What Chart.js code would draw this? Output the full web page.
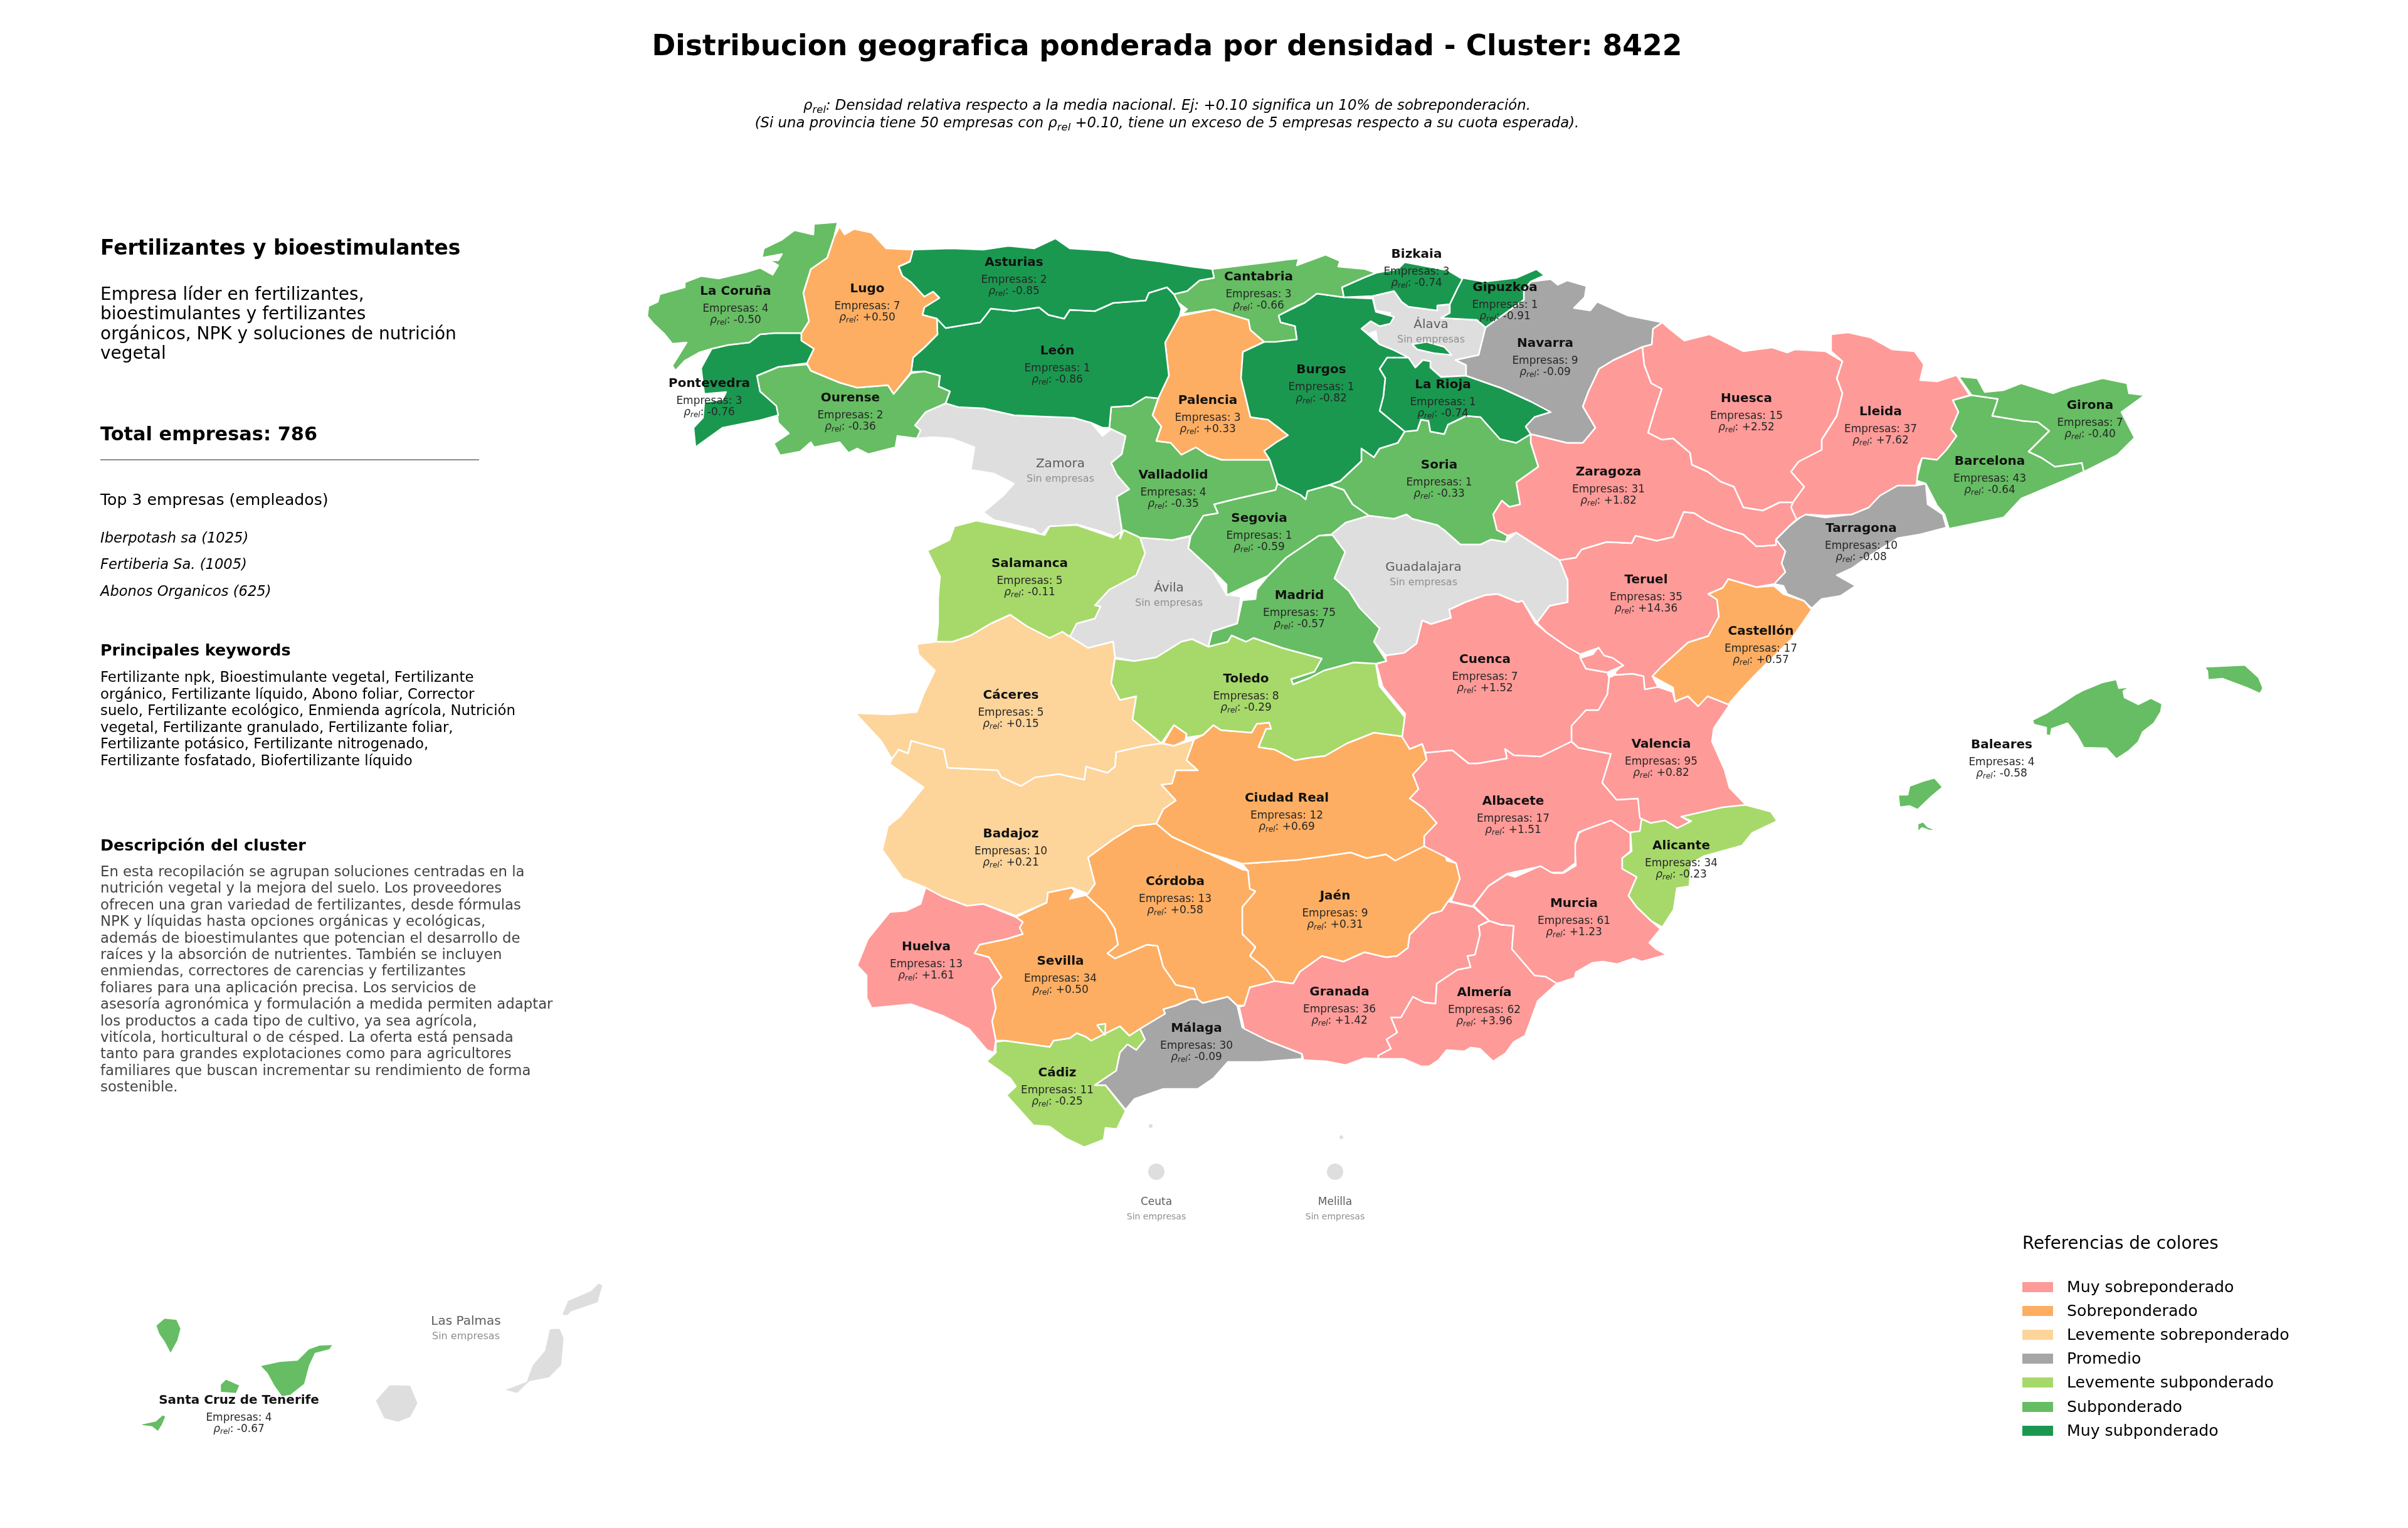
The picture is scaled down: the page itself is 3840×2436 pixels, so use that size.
<!DOCTYPE html>
<html lang="es">
<head>
<meta charset="utf-8">
<title>Distribucion geografica ponderada por densidad</title>
<script src="https://cdn.jsdelivr.net/npm/chart.js@4/dist/chart.umd.min.js"></script>
<style>
  html,body{margin:0;background:#fff;}
  #page{position:relative;width:3840px;height:2436px;overflow:hidden;font-family:"DejaVu Sans",sans-serif;color:#000;}
  #page canvas{position:absolute;left:0;top:0;}
  .t{position:absolute;white-space:nowrap;line-height:1;transform:translateY(-50%);}
  .c{transform:translate(-50%,-50%);}
  .t sub{font-size:.72em;line-height:0;}
  #rule{position:absolute;left:160px;top:732px;width:604px;height:2px;background:#8c8c8c;}
  .sw{position:absolute;left:3225px;width:49px;height:16px;}
</style>
</head>
<body>
<div id="page"><canvas id="map" width="3840" height="2436"></canvas></div>
<script>
// province outlines (image pixel units)
const laCoruna=[[1336,354],[1298,357],[1297,374],[1267,367],[1247,382],[1218,396],[1215,411],[1247,405],[1241,415],[1227,415],[1241,423],[1232,438],[1212,427],[1189,434],[1146,444],[1118,440],[1092,450],[1092,458],[1052,469],[1049,481],[1034,488],[1032,504],[1043,517],[1060,533],[1072,548],[1095,546],[1077,575],[1072,583],[1077,591],[1092,575],[1115,562],[1135,556],[1161,550],[1195,546],[1212,533],[1235,531],[1278,531],[1290,512],[1281,467],[1293,429],[1319,411],[1330,378]];
const lugo=[[1339,361],[1347,374],[1362,365],[1390,371],[1413,396],[1456,398],[1451,417],[1433,425],[1439,440],[1453,450],[1474,473],[1488,465],[1498,475],[1474,490],[1471,502],[1494,508],[1495,533],[1474,554],[1456,570],[1453,593],[1425,628],[1416,614],[1367,618],[1339,610],[1293,591],[1287,579],[1298,556],[1278,543],[1278,531],[1290,512],[1281,467],[1293,429],[1319,411],[1330,378]];
const pontevedra=[[1135,556],[1161,550],[1195,546],[1212,533],[1235,531],[1278,531],[1278,543],[1298,556],[1287,579],[1241,585],[1207,599],[1212,624],[1238,647],[1241,662],[1212,670],[1152,682],[1109,713],[1106,682],[1121,666],[1123,641],[1152,637],[1158,625],[1123,628],[1118,587]];
const ourense=[[1207,599],[1241,585],[1287,581],[1293,591],[1339,610],[1367,618],[1416,614],[1425,628],[1453,595],[1474,592],[1499,599],[1497,616],[1515,624],[1508,643],[1476,657],[1459,678],[1468,686],[1462,699],[1431,695],[1428,713],[1385,724],[1367,715],[1353,722],[1339,705],[1298,713],[1293,705],[1276,720],[1244,726],[1234,707],[1258,691],[1241,674],[1238,649],[1212,624]];
const asturias=[[1456,398],[1517,396],[1568,398],[1608,392],[1649,396],[1683,380],[1706,396],[1769,400],[1804,411],[1850,417],[1900,425],[1933,429],[1936,443],[1913,447],[1893,464],[1872,469],[1861,458],[1832,467],[1827,479],[1775,483],[1746,496],[1706,494],[1697,508],[1672,502],[1657,490],[1617,496],[1580,492],[1571,504],[1563,514],[1508,523],[1494,508],[1471,502],[1474,490],[1498,475],[1488,465],[1474,473],[1453,450],[1439,440],[1433,425],[1451,417]];
const leon=[[1872,469],[1861,458],[1832,467],[1827,479],[1775,483],[1746,496],[1706,494],[1697,508],[1672,502],[1657,490],[1617,496],[1580,492],[1571,504],[1563,514],[1508,523],[1494,508],[1495,533],[1474,554],[1456,570],[1453,593],[1474,592],[1499,599],[1497,616],[1515,624],[1508,643],[1528,649],[1568,651],[1617,662],[1660,664],[1712,666],[1740,674],[1758,682],[1769,682],[1772,649],[1804,647],[1827,633],[1847,635],[1864,599],[1858,546],[1881,504],[1884,492]];
const palencia=[[1881,504],[1936,493],[1968,503],[1991,510],[1994,526],[2016,545],[1982,561],[1979,603],[1988,640],[1994,665],[2022,669],[2039,682],[2054,694],[2034,706],[2016,719],[2025,733],[1971,733],[1948,733],[1925,725],[1907,713],[1884,725],[1867,706],[1844,703],[1852,680],[1838,662],[1850,628],[1864,599],[1858,546]];
const cantabria=[[1933,429],[2022,418],[2051,414],[2071,412],[2068,423],[2114,406],[2137,416],[2134,425],[2177,429],[2194,435],[2174,443],[2140,458],[2143,474],[2100,468],[2080,483],[2065,489],[2039,503],[2042,514],[2065,520],[2068,541],[2034,545],[2016,545],[1994,526],[1991,510],[1968,503],[1936,493],[1884,501],[1893,493],[1873,478],[1872,469],[1893,464],[1913,447],[1936,443]];
const burgos=[[2039,503],[2080,483],[2100,468],[2143,474],[2189,476],[2194,497],[2223,505],[2217,516],[2200,520],[2186,512],[2171,524],[2200,549],[2220,557],[2246,570],[2212,570],[2200,588],[2209,603],[2206,632],[2200,655],[2240,688],[2229,706],[2200,715],[2191,729],[2171,715],[2171,735],[2137,767],[2120,773],[2085,783],[2082,796],[2074,789],[2037,771],[2025,733],[2016,719],[2034,706],[2054,694],[2039,682],[2022,669],[1994,665],[1988,640],[1979,603],[1982,561],[2016,545],[2068,541],[2065,520],[2042,514]];
const trevino=[[2252,549],[2275,545],[2303,553],[2315,566],[2286,563],[2260,557]];
const alava=[[2189,472],[2223,464],[2235,481],[2246,489],[2292,495],[2292,487],[2312,485],[2312,499],[2298,507],[2355,510],[2369,522],[2358,566],[2321,574],[2338,582],[2338,599],[2298,601],[2281,586],[2281,576],[2269,574],[2257,586],[2246,570],[2220,557],[2197,549],[2194,528],[2183,532],[2170,524],[2186,512],[2200,520],[2217,516],[2217,499],[2194,495]];
const bizkaia=[[2194,435],[2229,429],[2240,418],[2309,431],[2332,445],[2324,460],[2312,485],[2292,487],[2292,495],[2246,489],[2235,481],[2223,464],[2189,472],[2143,474],[2140,458],[2174,443]];
const gipuzkoa=[[2332,443],[2367,449],[2418,443],[2450,429],[2463,439],[2441,449],[2430,462],[2430,478],[2369,522],[2355,510],[2298,507],[2312,499],[2312,485],[2324,460]];
const navarra=[[2441,449],[2473,445],[2484,454],[2499,447],[2530,456],[2527,474],[2510,491],[2536,495],[2547,481],[2596,503],[2651,514],[2636,524],[2634,549],[2619,553],[2573,574],[2550,588],[2533,624],[2524,648],[2544,682],[2524,706],[2499,706],[2458,696],[2441,692],[2433,680],[2447,665],[2473,657],[2441,640],[2395,619],[2338,599],[2338,582],[2321,574],[2358,566],[2369,522],[2430,478],[2430,462]];
const laRioja=[[2212,570],[2246,570],[2257,586],[2269,574],[2281,576],[2281,586],[2298,601],[2338,599],[2395,619],[2441,640],[2473,657],[2447,665],[2433,680],[2441,692],[2418,706],[2392,700],[2361,665],[2338,663],[2309,677],[2303,692],[2281,688],[2278,671],[2266,669],[2260,686],[2240,688],[2200,655],[2206,632],[2209,603],[2200,588]];
const soria=[[2240,688],[2260,686],[2266,669],[2278,671],[2281,688],[2303,692],[2309,677],[2338,663],[2361,665],[2392,700],[2418,706],[2441,692],[2441,706],[2453,744],[2418,769],[2424,804],[2407,808],[2395,798],[2381,820],[2387,845],[2404,854],[2401,864],[2378,860],[2361,868],[2329,868],[2303,845],[2292,837],[2252,827],[2243,820],[2223,827],[2183,822],[2157,804],[2143,781],[2120,773],[2137,767],[2171,735],[2171,715],[2191,729],[2200,715],[2229,706]];
const zamora=[[1508,643],[1528,649],[1568,651],[1617,662],[1660,664],[1712,666],[1740,674],[1758,695],[1772,684],[1795,695],[1789,724],[1772,738],[1781,757],[1801,780],[1781,792],[1789,844],[1786,859],[1758,848],[1717,836],[1672,840],[1660,854],[1649,844],[1585,829],[1568,817],[1600,790],[1617,771],[1585,755],[1548,749],[1554,713],[1517,699],[1488,697],[1462,699],[1468,686],[1459,678],[1476,657]];
const valladolid=[[1769,682],[1772,649],[1804,647],[1827,633],[1847,635],[1838,662],[1852,680],[1844,703],[1867,706],[1884,725],[1907,713],[1925,725],[1948,733],[1971,733],[2025,733],[2037,771],[2034,781],[1968,796],[1936,804],[1942,818],[1919,822],[1899,854],[1869,861],[1818,857],[1792,845],[1786,859],[1789,844],[1781,792],[1801,780],[1781,757],[1772,738],[1789,724],[1795,695],[1772,684]];
const segovia=[[2037,771],[2074,789],[2082,796],[2085,783],[2120,773],[2143,781],[2157,804],[2183,822],[2146,833],[2123,852],[2103,854],[2051,889],[2022,918],[1956,949],[1956,932],[1933,909],[1895,874],[1899,854],[1919,822],[1942,818],[1936,804],[1968,796],[2034,781]];
const madrid=[[2125,853],[2145,880],[2128,922],[2151,942],[2168,969],[2200,1002],[2191,1023],[2211,1054],[2194,1058],[2159,1056],[2111,1069],[2088,1081],[2062,1091],[2059,1083],[2096,1071],[2108,1050],[2045,1033],[1999,1017],[1987,1023],[1964,1013],[1958,1023],[1927,1031],[1933,1007],[1973,994],[1981,957],[2002,955],[2004,940],[2022,918],[2051,889],[2103,854]];
const avila=[[1818,857],[1869,861],[1898,855],[1895,874],[1933,909],[1956,948],[1979,951],[1973,994],[1933,1007],[1927,1031],[1901,1019],[1884,1023],[1844,1048],[1809,1054],[1778,1048],[1775,1023],[1735,1033],[1706,1015],[1717,994],[1746,986],[1755,967],[1746,965],[1769,940],[1812,917],[1826,882]];
const salamanca=[[1522,839],[1557,830],[1603,839],[1666,853],[1674,839],[1717,837],[1752,849],[1775,857],[1792,845],[1818,857],[1826,882],[1812,917],[1769,940],[1746,965],[1755,967],[1746,986],[1717,994],[1706,1015],[1694,1007],[1674,1017],[1637,998],[1611,980],[1580,994],[1548,1013],[1519,1023],[1493,1023],[1496,994],[1496,953],[1499,919],[1479,878],[1514,861]];
const caceres=[[1462,1027],[1493,1023],[1519,1023],[1548,1013],[1580,994],[1611,980],[1637,998],[1674,1017],[1694,1007],[1706,1015],[1735,1033],[1775,1023],[1778,1048],[1772,1089],[1786,1116],[1812,1110],[1806,1147],[1852,1185],[1824,1189],[1780,1199],[1778,1222],[1766,1232],[1732,1222],[1729,1243],[1689,1234],[1651,1239],[1628,1253],[1597,1239],[1591,1228],[1511,1224],[1505,1195],[1453,1181],[1448,1201],[1433,1195],[1422,1210],[1405,1181],[1364,1137],[1419,1139],[1462,1135],[1473,1106],[1491,1069],[1465,1044]];
const badajoz=[[1422,1210],[1433,1195],[1448,1201],[1453,1181],[1505,1195],[1511,1224],[1591,1228],[1597,1239],[1628,1253],[1651,1239],[1689,1234],[1729,1243],[1732,1222],[1766,1232],[1778,1222],[1780,1199],[1824,1189],[1852,1185],[1872,1189],[1904,1179],[1892,1212],[1910,1228],[1875,1228],[1869,1249],[1852,1251],[1875,1276],[1855,1290],[1844,1313],[1809,1317],[1775,1338],[1735,1367],[1746,1409],[1735,1425],[1709,1415],[1671,1423],[1669,1439],[1620,1460],[1568,1441],[1542,1444],[1502,1429],[1476,1415],[1439,1400],[1407,1355],[1416,1317],[1436,1301],[1473,1255],[1436,1230],[1419,1218]];
const almaden=[[1872,1156],[1892,1170],[1890,1181],[1872,1189],[1855,1185]];
const toledo=[[1778,1050],[1809,1054],[1844,1048],[1884,1023],[1901,1019],[1927,1031],[1958,1023],[1964,1013],[1987,1023],[1999,1017],[2045,1033],[2108,1050],[2096,1071],[2059,1083],[2062,1091],[2088,1081],[2111,1069],[2159,1056],[2194,1058],[2200,1094],[2240,1143],[2237,1174],[2191,1168],[2148,1185],[2113,1205],[2088,1208],[2065,1212],[2033,1195],[2007,1191],[2019,1162],[2027,1162],[2024,1152],[2004,1154],[1996,1168],[1947,1164],[1935,1156],[1918,1172],[1892,1176],[1892,1170],[1872,1156],[1852,1185],[1806,1147],[1812,1110],[1786,1116],[1772,1089]];
const ciudadReal=[[1904,1179],[1918,1172],[1935,1156],[1947,1164],[1996,1168],[2004,1154],[2024,1152],[2027,1162],[2019,1162],[2007,1191],[2033,1195],[2065,1212],[2088,1208],[2113,1205],[2148,1185],[2191,1168],[2237,1174],[2248,1194],[2268,1186],[2275,1211],[2253,1235],[2262,1258],[2248,1273],[2271,1289],[2291,1312],[2271,1333],[2271,1349],[2225,1372],[2210,1362],[2179,1368],[2154,1359],[2113,1365],[2068,1371],[1981,1377],[1924,1359],[1869,1334],[1844,1313],[1855,1290],[1875,1276],[1852,1251],[1869,1249],[1875,1228],[1910,1228],[1892,1212]];
const cordoba=[[1844,1313],[1869,1334],[1924,1359],[1981,1386],[1990,1388],[1993,1417],[2002,1421],[1981,1446],[1981,1489],[2002,1510],[1993,1524],[2019,1545],[2033,1564],[1993,1574],[1984,1603],[1973,1603],[1958,1589],[1918,1599],[1910,1593],[1904,1576],[1875,1570],[1855,1541],[1846,1508],[1829,1506],[1815,1512],[1778,1528],[1766,1520],[1783,1506],[1778,1481],[1763,1456],[1732,1427],[1746,1409],[1735,1367],[1775,1338],[1809,1317]];
const jaen=[[1981,1377],[2068,1371],[2113,1365],[2154,1359],[2179,1368],[2210,1362],[2225,1372],[2271,1349],[2304,1355],[2307,1372],[2322,1376],[2330,1400],[2327,1415],[2309,1437],[2299,1452],[2281,1457],[2248,1490],[2245,1511],[2228,1524],[2210,1526],[2176,1518],[2142,1533],[2108,1524],[2073,1549],[2062,1568],[2033,1564],[2019,1545],[1993,1524],[2002,1510],[1981,1489],[1981,1446],[2002,1421],[1993,1417],[1990,1388]];
const albacete=[[2273,1200],[2316,1196],[2342,1217],[2357,1217],[2403,1209],[2400,1194],[2414,1204],[2457,1206],[2506,1182],[2517,1192],[2569,1202],[2555,1248],[2578,1275],[2612,1273],[2618,1304],[2615,1325],[2598,1327],[2569,1308],[2535,1320],[2517,1327],[2512,1343],[2512,1376],[2492,1391],[2474,1391],[2457,1381],[2403,1393],[2374,1412],[2348,1445],[2314,1437],[2328,1401],[2322,1376],[2305,1366],[2271,1349],[2271,1333],[2291,1312],[2271,1289],[2248,1273],[2262,1258],[2253,1235],[2275,1211]];
const cuenca=[[2268,989],[2282,995],[2314,985],[2311,972],[2337,960],[2368,949],[2388,947],[2420,960],[2428,958],[2448,993],[2466,1008],[2500,1032],[2520,1043],[2520,1049],[2529,1066],[2563,1072],[2566,1080],[2563,1107],[2549,1132],[2529,1132],[2506,1157],[2506,1182],[2457,1206],[2414,1204],[2400,1194],[2403,1209],[2357,1217],[2342,1217],[2316,1196],[2273,1200],[2268,1186],[2248,1194],[2236,1175],[2241,1138],[2205,1095],[2195,1059],[2210,1053],[2210,1045],[2239,1041],[2259,1026]];
const guadalajara=[[2123,852],[2146,833],[2183,822],[2223,827],[2243,820],[2252,827],[2292,837],[2303,845],[2329,868],[2361,868],[2378,860],[2401,864],[2418,849],[2453,872],[2487,893],[2500,925],[2500,960],[2471,966],[2451,993],[2428,958],[2420,960],[2388,947],[2368,949],[2337,960],[2311,972],[2314,985],[2282,995],[2268,989],[2259,1026],[2239,1041],[2210,1045],[2191,1023],[2200,1002],[2168,969],[2151,942],[2128,922],[2145,880]];
const zaragoza=[[2441,692],[2458,696],[2499,706],[2524,706],[2544,682],[2524,648],[2533,624],[2550,588],[2573,574],[2619,553],[2622,582],[2633,611],[2650,620],[2640,650],[2628,690],[2650,701],[2668,699],[2695,722],[2698,741],[2723,752],[2744,768],[2765,776],[2780,809],[2811,814],[2838,801],[2859,801],[2856,809],[2865,828],[2853,839],[2832,860],[2832,869],[2801,871],[2780,852],[2750,843],[2722,831],[2702,818],[2685,816],[2668,856],[2642,862],[2608,854],[2602,866],[2562,864],[2522,876],[2513,889],[2487,893],[2418,849],[2404,854],[2387,845],[2381,820],[2395,798],[2407,808],[2424,804],[2418,769],[2453,744],[2441,706]];
const huesca=[[2651,514],[2662,524],[2686,543],[2726,533],[2780,560],[2826,554],[2850,562],[2862,557],[2911,560],[2938,576],[2929,603],[2938,627],[2929,663],[2905,701],[2905,717],[2868,736],[2856,752],[2877,776],[2859,801],[2838,801],[2811,814],[2780,809],[2765,776],[2744,768],[2723,752],[2698,741],[2695,722],[2668,699],[2650,701],[2628,690],[2640,650],[2650,620],[2633,611],[2622,582],[2619,553],[2634,549],[2636,524]];
const lleida=[[2920,533],[2947,530],[2983,538],[3017,557],[3053,560],[3068,581],[3062,606],[3089,608],[3120,598],[3141,630],[3114,638],[3123,657],[3111,684],[3120,695],[3104,717],[3089,733],[3065,730],[3059,744],[3056,774],[3026,774],[2998,790],[2980,809],[2953,820],[2911,822],[2880,820],[2865,828],[2856,809],[2859,801],[2877,776],[2856,752],[2868,736],[2905,717],[2905,701],[2929,663],[2938,627],[2929,603],[2938,576],[2920,560]];
const girona=[[3123,600],[3153,603],[3165,625],[3195,622],[3223,611],[3274,627],[3301,617],[3353,603],[3392,611],[3395,627],[3420,630],[3401,644],[3383,657],[3404,698],[3377,725],[3323,752],[3320,738],[3277,744],[3256,730],[3235,720],[3268,687],[3250,673],[3226,671],[3177,663],[3183,646],[3186,636],[3144,630]];
const barcelona=[[3114,638],[3144,630],[3186,636],[3183,646],[3177,663],[3226,671],[3250,673],[3268,687],[3235,720],[3256,730],[3277,744],[3320,738],[3323,752],[3292,766],[3223,795],[3195,825],[3108,843],[3101,820],[3089,806],[3071,771],[3056,766],[3065,730],[3089,733],[3104,717],[3120,695],[3111,684],[3123,657]];
const tarragona=[[3026,774],[3056,774],[3071,771],[3074,804],[3098,820],[3104,841],[3062,852],[3026,858],[2983,885],[2953,906],[2929,917],[2959,934],[2935,950],[2905,955],[2889,970],[2877,958],[2850,947],[2844,934],[2829,931],[2847,912],[2841,898],[2847,879],[2832,860],[2853,839],[2877,820],[2911,825],[2953,820],[2980,809],[2998,790]];
const castellon=[[2756,923],[2801,936],[2829,934],[2844,947],[2877,958],[2889,972],[2856,1020],[2814,1061],[2795,1080],[2777,1099],[2756,1123],[2723,1110],[2708,1126],[2692,1110],[2671,1118],[2668,1096],[2635,1078],[2649,1063],[2692,1024],[2724,1014],[2741,983],[2738,956],[2724,947],[2747,937]];
const teruel=[[2487,893],[2513,889],[2522,876],[2562,864],[2602,866],[2608,854],[2642,862],[2668,856],[2685,816],[2702,818],[2722,831],[2750,843],[2780,852],[2801,871],[2832,869],[2832,860],[2847,879],[2841,898],[2847,912],[2829,931],[2801,936],[2756,923],[2747,937],[2724,947],[2738,956],[2741,983],[2724,1014],[2692,1024],[2649,1063],[2635,1078],[2644,1095],[2623,1099],[2621,1078],[2603,1074],[2578,1076],[2575,1072],[2586,1061],[2558,1047],[2546,1034],[2520,1043],[2500,1032],[2466,1008],[2451,993],[2471,966],[2500,960],[2500,925]];
const ademuz=[[2520,1049],[2529,1066],[2563,1072],[2589,1061],[2572,1049],[2558,1045],[2549,1032],[2540,1043]];
const valencia=[[2566,1080],[2575,1076],[2603,1074],[2621,1078],[2623,1099],[2644,1095],[2667,1103],[2672,1119],[2690,1109],[2707,1124],[2724,1109],[2758,1124],[2733,1161],[2730,1182],[2750,1227],[2758,1256],[2784,1283],[2747,1287],[2681,1302],[2695,1310],[2675,1320],[2655,1308],[2632,1312],[2615,1304],[2612,1273],[2578,1275],[2555,1248],[2569,1202],[2517,1192],[2506,1182],[2506,1157],[2529,1132],[2549,1132],[2563,1107]];
const alicante=[[2613,1304],[2633,1311],[2656,1307],[2674,1320],[2697,1309],[2681,1302],[2712,1294],[2737,1283],[2763,1285],[2783,1283],[2824,1294],[2834,1309],[2794,1328],[2778,1348],[2717,1365],[2697,1376],[2694,1413],[2674,1416],[2669,1450],[2651,1478],[2633,1468],[2610,1446],[2597,1428],[2610,1398],[2587,1385],[2587,1368],[2602,1357],[2600,1328],[2615,1320]];
const murcia=[[2600,1326],[2600,1357],[2587,1368],[2587,1385],[2610,1398],[2597,1428],[2610,1446],[2633,1468],[2648,1481],[2630,1503],[2641,1513],[2658,1522],[2618,1533],[2605,1528],[2579,1537],[2556,1533],[2539,1535],[2513,1550],[2511,1559],[2483,1568],[2465,1557],[2447,1555],[2411,1513],[2414,1476],[2393,1474],[2375,1468],[2350,1444],[2373,1413],[2403,1394],[2416,1398],[2457,1380],[2472,1381],[2477,1392],[2493,1392],[2513,1380],[2511,1348],[2518,1328],[2536,1318],[2567,1307],[2582,1311]];
const almeria=[[2375,1468],[2393,1474],[2414,1476],[2411,1513],[2447,1555],[2465,1557],[2483,1568],[2452,1596],[2442,1624],[2432,1651],[2414,1661],[2401,1679],[2381,1692],[2360,1672],[2345,1670],[2335,1676],[2307,1674],[2294,1690],[2279,1700],[2266,1700],[2238,1688],[2199,1688],[2197,1683],[2218,1672],[2211,1657],[2228,1646],[2218,1622],[2234,1622],[2253,1589],[2271,1598],[2289,1600],[2291,1568],[2324,1546],[2345,1542],[2340,1524],[2352,1522],[2360,1490],[2358,1476]];
const granada=[[2033,1564],[2062,1568],[2073,1549],[2108,1524],[2142,1533],[2176,1518],[2210,1526],[2228,1524],[2245,1511],[2248,1490],[2281,1457],[2299,1452],[2309,1437],[2350,1446],[2375,1468],[2358,1476],[2360,1490],[2352,1522],[2340,1524],[2345,1542],[2324,1546],[2291,1568],[2289,1600],[2271,1598],[2253,1589],[2234,1622],[2218,1622],[2228,1646],[2211,1657],[2218,1672],[2197,1683],[2199,1688],[2176,1687],[2146,1698],[2115,1692],[2079,1690],[2076,1680],[2022,1659],[1984,1640],[1976,1605],[1984,1603],[1993,1574]];
const malaga=[[1898,1593],[1910,1593],[1918,1599],[1958,1589],[1973,1603],[1981,1638],[2022,1659],[2076,1680],[2076,1688],[2010,1693],[1958,1693],[1935,1719],[1910,1736],[1855,1736],[1809,1752],[1795,1769],[1763,1730],[1746,1730],[1780,1707],[1786,1678],[1798,1665],[1812,1674],[1826,1657],[1818,1640],[1858,1616],[1855,1609],[1875,1603]];
const cadiz=[[1588,1661],[1603,1659],[1674,1669],[1680,1659],[1706,1655],[1717,1647],[1732,1653],[1740,1659],[1760,1649],[1786,1636],[1801,1651],[1818,1640],[1826,1657],[1812,1674],[1798,1665],[1786,1678],[1780,1707],[1746,1730],[1763,1730],[1795,1771],[1781,1800],[1763,1798],[1760,1817],[1729,1829],[1700,1815],[1674,1796],[1648,1794],[1631,1775],[1605,1746],[1620,1732],[1611,1719],[1573,1692],[1588,1678]];
const cadizIslet=[[1749,1634],[1763,1632],[1762,1650],[1755,1642]];
const sevilla=[[1620,1462],[1669,1439],[1671,1423],[1709,1415],[1714,1421],[1706,1433],[1732,1427],[1763,1456],[1778,1481],[1783,1506],[1766,1520],[1778,1528],[1815,1512],[1829,1506],[1846,1508],[1855,1541],[1875,1570],[1904,1576],[1910,1593],[1898,1593],[1875,1603],[1855,1609],[1858,1616],[1818,1640],[1801,1651],[1786,1636],[1760,1649],[1740,1659],[1732,1653],[1717,1647],[1706,1655],[1680,1659],[1674,1669],[1603,1659],[1588,1659],[1582,1628],[1588,1607],[1582,1576],[1597,1558],[1577,1526],[1554,1520],[1562,1506],[1605,1497],[1631,1489],[1626,1479],[1631,1470]];
const huelva=[[1476,1415],[1502,1429],[1542,1444],[1568,1441],[1620,1462],[1631,1470],[1626,1479],[1631,1489],[1605,1497],[1562,1506],[1554,1520],[1577,1526],[1597,1558],[1582,1576],[1588,1607],[1582,1628],[1588,1659],[1585,1678],[1574,1674],[1545,1640],[1505,1620],[1453,1601],[1390,1607],[1382,1591],[1382,1555],[1367,1539],[1384,1497],[1419,1454],[1445,1452],[1468,1441]];
const mallorca=[[3241,1148],[3263,1137],[3290,1120],[3308,1108],[3323,1100],[3352,1088],[3375,1083],[3379,1097],[3397,1095],[3386,1102],[3388,1112],[3410,1123],[3430,1113],[3448,1122],[3446,1135],[3435,1153],[3417,1167],[3410,1183],[3395,1197],[3375,1210],[3359,1193],[3323,1192],[3312,1172],[3297,1153],[3272,1162],[3270,1173],[3263,1172],[3263,1160],[3243,1155]];
const menorca=[[3515,1063],[3540,1062],[3580,1060],[3602,1080],[3609,1097],[3604,1106],[3584,1097],[3544,1082],[3521,1084],[3520,1070]];
const ibiza=[[3027,1267],[3042,1267],[3045,1253],[3067,1245],[3085,1240],[3098,1255],[3080,1270],[3058,1291],[3045,1285],[3029,1287]];
const formentera=[[3058,1313],[3067,1310],[3074,1318],[3091,1324],[3076,1324],[3065,1320],[3058,1327]];
const laPalma=[[248,2113],[262,2101],[282,2103],[289,2118],[284,2137],[272,2159],[262,2140],[253,2127]];
const tenerife=[[414,2177],[446,2170],[474,2168],[492,2150],[509,2144],[532,2143],[526,2152],[503,2158],[494,2177],[486,2207],[463,2225],[449,2227],[437,2210],[426,2190]];
const laGomera=[[351,2207],[360,2198],[383,2208],[377,2222],[351,2220]];
const elHierro=[[225,2270],[248,2265],[259,2255],[265,2258],[259,2272],[252,2283],[242,2275],[226,2273]];
const granCanaria=[[598,2233],[621,2207],[655,2208],[667,2237],[655,2260],[635,2268],[612,2262]];
const fuerteventura=[[802,2216],[839,2202],[848,2177],[868,2153],[876,2118],[893,2117],[900,2133],[896,2177],[876,2197],[845,2203],[825,2222]];
const lanzarote=[[895,2097],[905,2073],[942,2057],[954,2045],[962,2048],[954,2077],[911,2092],[905,2098]];
const graciosa=[[950,2040],[953,2036],[956,2042]];

const bandNames=['Muy sobreponderado','Sobreponderado','Levemente sobreponderado','Promedio','Levemente subponderado','Subponderado','Muy subponderado'];
const bandColors=['#fe9a98','#fdae62','#fdd49a','#a6a6a6','#a6d96a','#66bd63','#1a9850'];
const noDataColor='#dedede';

const provinceNames=['La Coruña','Lugo','Asturias','León','Pontevedra','Ourense','Cantabria','Bizkaia','Gipuzkoa','Navarra','Burgos','La Rioja','Palencia','Valladolid','Soria','Zaragoza','Segovia','Madrid','Teruel','Huesca','Lleida','Girona','Barcelona','Tarragona','Castellón','Baleares','Cuenca','Toledo','Salamanca','Cáceres','Badajoz','Ciudad Real','Valencia','Albacete','Alicante','Murcia','Córdoba','Jaén','Huelva','Sevilla','Granada','Almería','Málaga','Cádiz','Santa Cruz de Tenerife'];
const companyCounts=[4,7,2,1,3,2,3,3,1,9,1,1,3,4,1,31,1,75,35,15,37,7,43,10,17,4,7,8,5,5,10,12,95,17,34,61,13,9,13,34,36,62,30,11,4];
const rhoValues=['-0.50','+0.50','-0.85','-0.86','-0.76','-0.36','-0.66','-0.74','-0.91','-0.09','-0.82','-0.74','+0.33','-0.35','-0.33','+1.82','-0.59','-0.57','+14.36','+2.52','+7.62','-0.40','-0.64','-0.08','+0.57','-0.58','+1.52','-0.29','-0.11','+0.15','+0.21','+0.69','+0.82','+1.51','-0.23','+1.23','+0.58','+0.31','+1.61','+0.50','+1.42','+3.96','-0.09','-0.25','-0.67'];
const provinceBands=[5,1,6,6,6,5,5,6,6,3,6,6,1,5,5,0,5,5,0,0,0,5,5,3,1,5,0,4,4,2,2,1,0,0,4,0,1,1,0,1,0,0,3,4,5];
const provinceShapes=[[laCoruna],[lugo],[asturias],[leon],[pontevedra],[ourense],[cantabria],[bizkaia],[gipuzkoa],[navarra],[burgos],[laRioja],[palencia],[valladolid],[soria],[zaragoza],[segovia],[madrid],[teruel],[huesca],[lleida],[girona],[barcelona],[tarragona],[castellon],[mallorca,menorca,ibiza,formentera],[cuenca],[toledo],[salamanca],[caceres],[badajoz],[ciudadReal],[valencia],[albacete],[alicante],[murcia],[cordoba],[jaen],[huelva],[sevilla],[granada],[almeria],[malaga],[cadiz],[laPalma,tenerife,laGomera,elHierro]];
const labelX=[1173,1383,1617,1686,1131,1356,2007,2259,2400,2464,2107,2301,1926,1871,2295,2565,2008,2072,2625,2785,2999,3333,3173,2968,2808,3192,2368,1987,1642,1612,1612,2052,2649,2413,2681,2510,1874,2129,1477,1691,2136,2367,1908,1686,381];
const labelY=[465,461,419,560,612,635,442,406,459,548,590,614,639,758,742,753,827,950,925,636,657,647,736,843,1007,1188,1052,1083,899,1109,1330,1273,1187,1278,1349,1441,1406,1429,1510,1533,1582,1583,1640,1711,2233];

const emptyNames=['Zamora','Ávila','Álava','Guadalajara','Las Palmas'];
const emptyShapes=[[zamora],[avila],[alava],[guadalajara],[granCanaria,fuerteventura,lanzarote,graciosa]];
const emptyX=[1691,1864,2282,2270,743];
const emptyY=[740,938,518,905,2107];

const enclaveShapes=[trevino,almaden,ademuz,cadizIslet];
const enclaveBands=[6,1,0,4];

const cityNames=['Ceuta','Melilla'];
const cityPoints=[[1844,1868],[2129,1868]];
const cityLabelY=[1917,1917];
const isletPoints=[[1835,1795],[2139,1813]];

const titleText='Distribucion geografica ponderada por densidad - Cluster: 8422';
const noteLines=['<i>ρ<sub>rel</sub>: Densidad relativa respecto a la media nacional. Ej: +0.10 significa un 10% de sobreponderación.</i>','<i>(Si una provincia tiene 50 empresas con ρ<sub>rel</sub> +0.10, tiene un exceso de 5 empresas respecto a su cuota esperada).</i>'];
const clusterName='Fertilizantes y bioestimulantes';
const clusterLead=['Empresa líder en fertilizantes,','bioestimulantes y fertilizantes','orgánicos, NPK y soluciones de nutrición','vegetal'];
const totalText='Total empresas: 786';
const topHeading='Top 3 empresas (empleados)';
const topCompanies=['Iberpotash sa (1025)','Fertiberia Sa. (1005)','Abonos Organicos (625)'];
const keywordHeading='Principales keywords';
const keywordLines=['Fertilizante npk, Bioestimulante vegetal, Fertilizante','orgánico, Fertilizante líquido, Abono foliar, Corrector','suelo, Fertilizante ecológico, Enmienda agrícola, Nutrición','vegetal, Fertilizante granulado, Fertilizante foliar,','Fertilizante potásico, Fertilizante nitrogenado,','Fertilizante fosfatado, Biofertilizante líquido'];
const descHeading='Descripción del cluster';
const descLines=['En esta recopilación se agrupan soluciones centradas en la','nutrición vegetal y la mejora del suelo. Los proveedores','ofrecen una gran variedad de fertilizantes, desde fórmulas','NPK y líquidas hasta opciones orgánicas y ecológicas,','además de bioestimulantes que potencian el desarrollo de','raíces y la absorción de nutrientes. También se incluyen','enmiendas, correctores de carencias y fertilizantes','foliares para una aplicación precisa. Los servicios de','asesoría agronómica y formulación a medida permiten adaptar','los productos a cada tipo de cultivo, ya sea agrícola,','vitícola, horticultural o de césped. La oferta está pensada','tanto para grandes explotaciones como para agricultores','familiares que buscan incrementar su rendimiento de forma','sostenible.'];
const legendTitle='Referencias de colores';

const FONT='"DejaVu Sans", sans-serif';

function shapeDataset(pts,color){
  return {
    data:pts.concat([pts[0]]).map(p=>({x:p[0],y:p[1]})),
    showLine:true,
    fill:'shape',
    backgroundColor:color,
    borderColor:'#ffffff',
    borderWidth:2.5,
    borderJoinStyle:'round',
    pointRadius:0,
    tension:0
  };
}

const datasets=[];
enclaveShapes.forEach((s,i)=>datasets.push(shapeDataset(s,bandColors[enclaveBands[i]])));
provinceShapes.forEach((parts,i)=>parts.forEach(s=>datasets.push(shapeDataset(s,bandColors[provinceBands[i]]))));
emptyShapes.forEach(parts=>parts.forEach(s=>datasets.push(shapeDataset(s,noDataColor))));
datasets.push({data:cityPoints.map(p=>({x:p[0],y:p[1]})),pointRadius:13,backgroundColor:noDataColor,borderWidth:0});
datasets.push({data:isletPoints.map(p=>({x:p[0],y:p[1]})),pointRadius:3,backgroundColor:noDataColor,borderWidth:0});

// names and values over the map, placed through the chart scales
const labelPlugin={
  id:'provinceLabels',
  afterDatasetsDraw(chart){
    const {ctx,scales:{x,y}}=chart;
    ctx.save();
    ctx.textBaseline='middle';
    const centered=(txt,px,py,font,color)=>{
      ctx.font=font; ctx.fillStyle=color; ctx.textAlign='center';
      ctx.fillText(txt,px,py);
    };
    provinceNames.forEach((name,i)=>{
      const px=x.getPixelForValue(labelX[i]), py=y.getPixelForValue(labelY[i]);
      centered(name,px,py,'bold 20px '+FONT,'#111111');
      centered('Empresas: '+companyCounts[i],px,py+28,'17px '+FONT,'#262626');
      // rho line: three pieces so that "rel" sits as a subscript
      const rest=': '+rhoValues[i];
      ctx.textAlign='left'; ctx.fillStyle='#262626';
      ctx.font='italic 17px '+FONT; const w1=ctx.measureText('ρ').width;
      ctx.font='italic 12px '+FONT; const w2=ctx.measureText('rel').width;
      ctx.font='17px '+FONT; const w3=ctx.measureText(rest).width;
      let cx=px-(w1+w2+w3)/2;
      ctx.font='italic 17px '+FONT; ctx.fillText('ρ',cx,py+46); cx+=w1;
      ctx.font='italic 12px '+FONT; ctx.fillText('rel',cx,py+50); cx+=w2;
      ctx.font='17px '+FONT; ctx.fillText(rest,cx,py+46);
    });
    emptyNames.forEach((name,i)=>{
      const px=x.getPixelForValue(emptyX[i]), py=y.getPixelForValue(emptyY[i]);
      centered(name,px,py,'20px '+FONT,'#5c5c5c');
      centered('Sin empresas',px,py+24,'16px '+FONT,'#8f8f8f');
    });
    cityNames.forEach((name,i)=>{
      const px=x.getPixelForValue(cityPoints[i][0]), py=y.getPixelForValue(cityLabelY[i]);
      centered(name,px,py,'17px '+FONT,'#5c5c5c');
      centered('Sin empresas',px,py+23,'14px '+FONT,'#8f8f8f');
    });
    ctx.restore();
  }
};

new Chart(document.getElementById('map'),{
  type:'scatter',
  data:{datasets},
  plugins:[labelPlugin],
  options:{
    responsive:false,
    animation:false,
    devicePixelRatio:1,
    layout:{padding:0,autoPadding:false},
    scales:{
      x:{type:'linear',min:0,max:3840,display:false},
      y:{type:'linear',min:0,max:2436,reverse:true,display:false}
    },
    plugins:{legend:{display:false},tooltip:{enabled:false}}
  }
});

// page text around the map
const page=document.getElementById('page');
function put(html,x,y,size,opts){
  opts=opts||{};
  const d=document.createElement('div');
  d.className='t'+(opts.center?' c':'');
  d.style.left=x+'px'; d.style.top=y+'px'; d.style.fontSize=size+'px';
  if(opts.bold) d.style.fontWeight='bold';
  if(opts.italic) d.style.fontStyle='italic';
  if(opts.color) d.style.color=opts.color;
  d.innerHTML=html;
  page.appendChild(d);
}
put(titleText,1861,73,45.6,{bold:true,center:true});
noteLines.forEach((l,i)=>put(l,1861,[167,195][i],22.8,{center:true}));
put(clusterName,160,395,32.9,{bold:true});
clusterLead.forEach((l,i)=>put(l,160,[469,500,532,563][i],28));
put(totalText,160,692,30.4,{bold:true});
const rule=document.createElement('div'); rule.id='rule'; page.appendChild(rule);
put(topHeading,160,797,25.2);
topCompanies.forEach((l,i)=>put(l,160,[857,899,942][i],22.6,{italic:true}));
put(keywordHeading,160,1037,25.4,{bold:true});
keywordLines.forEach((l,i)=>put(l,160,1079+i*26.6,22.8));
put(descHeading,160,1348,25.4,{bold:true});
descLines.forEach((l,i)=>put(l,160,1389+i*26.4,22.8,{color:'#444444'}));
put(legendTitle,3225,1982,27.7);
bandNames.forEach((n,i)=>{
  const yc=[2052,2090,2128,2166,2204,2243,2281][i];
  const s=document.createElement('div'); s.className='sw';
  s.style.top=(yc-8)+'px'; s.style.background=bandColors[i];
  page.appendChild(s);
  put(n,3296,yc,25.2);
});
</script>
</body>
</html>
